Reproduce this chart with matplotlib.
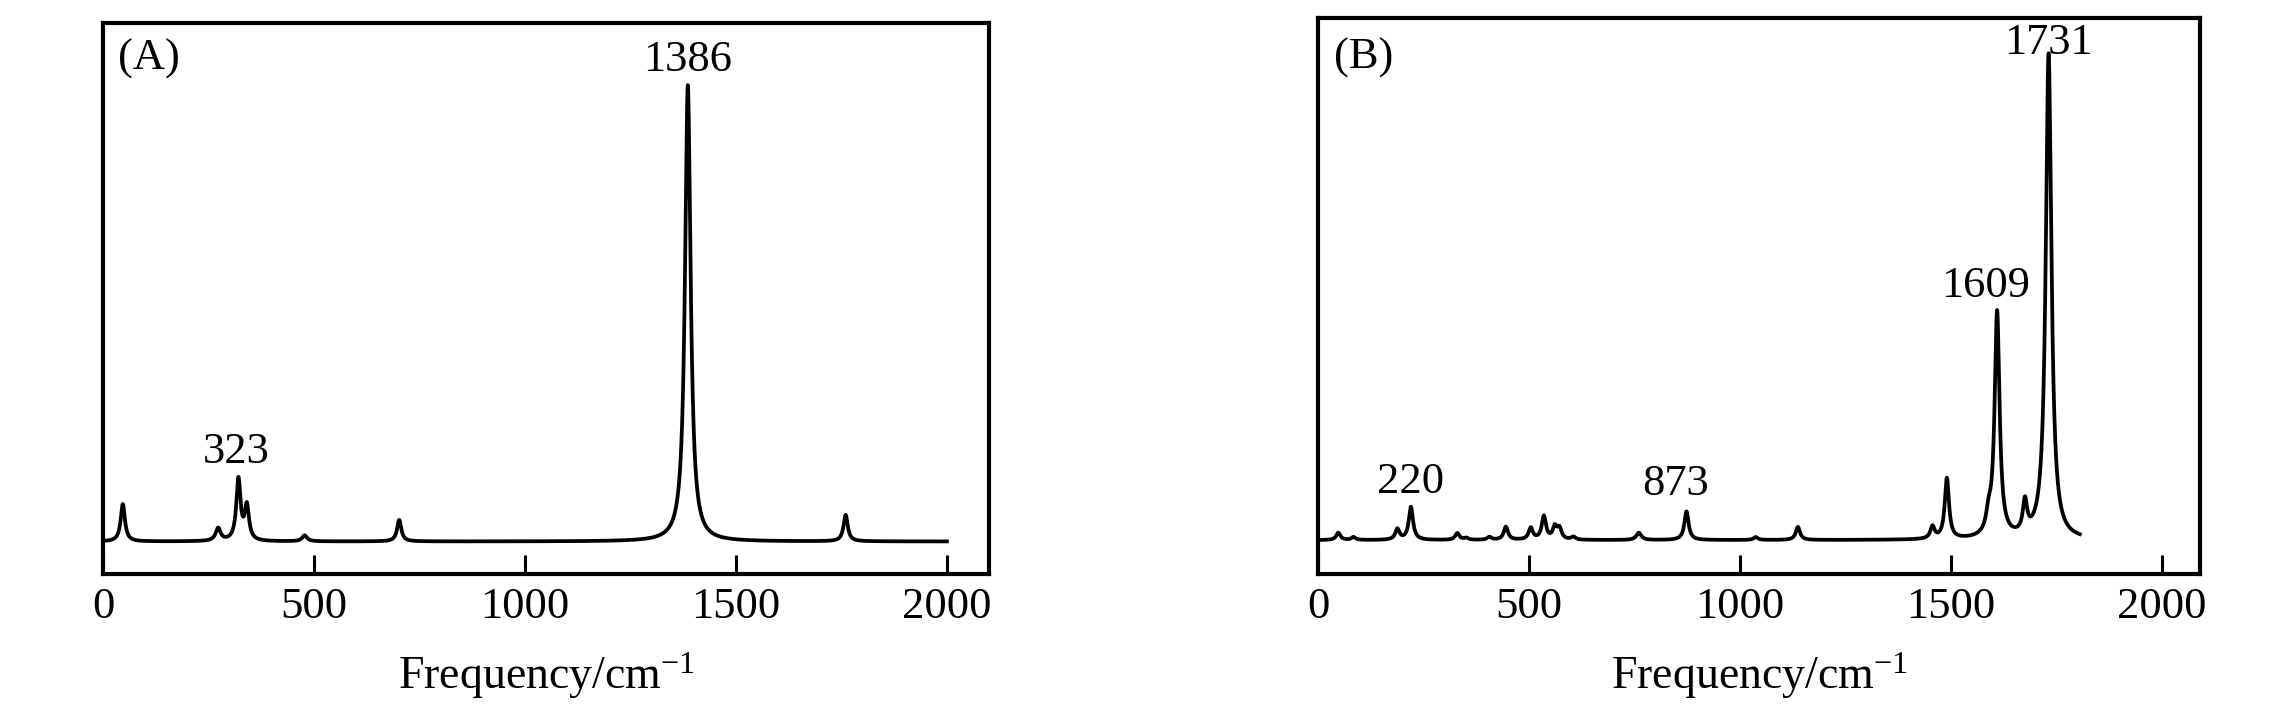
import numpy as np
import matplotlib
matplotlib.use("Agg")
import matplotlib.pyplot as plt

plt.rcParams['font.family'] = ['Liberation Serif', 'DejaVu Serif']
plt.rcParams['mathtext.fontset'] = 'custom'
plt.rcParams['mathtext.rm'] = 'Liberation Serif'
plt.rcParams['mathtext.it'] = 'Liberation Serif:italic'

# ---------------- peak lists ----------------
# (A): position / cm^-1, relative height, half width
pos_a = [47, 273, 321, 341, 478, 702, 1386, 1760]
amp_a = [0.082, 0.028, 0.135, 0.075, 0.013, 0.047, 1.0, 0.058]
hw_a = [6, 7, 6, 6, 7, 6, 8, 6]
range_a = (0, 2000)

# (B)
pos_b = [48, 84, 188, 220, 330, 351, 406, 445, 504, 535, 561, 572, 605,
         760, 873, 1037, 1137, 1456, 1490, 1589, 1609, 1675, 1731]
amp_b = [0.015, 0.006, 0.022, 0.068, 0.014, 0.004, 0.006, 0.027, 0.024,
         0.048, 0.025, 0.022, 0.006, 0.015, 0.059, 0.006, 0.027, 0.025,
         0.125, 0.035, 0.465, 0.065, 1.0]
hw_b = [6, 6, 6, 6, 6, 6, 6, 6, 6, 6, 6, 6, 6, 7, 6, 6, 6, 6, 6, 7, 7, 6, 8]
range_b = (0, 1805)

labels_a = [(1386, 1.03, '1386'), (317, 0.173, '323')]
labels_b = [(1730, 1.0, '1731'), (1583, 0.50, '1609'),
            (220, 0.097, '220'), (848, 0.092, '873')]


def spectrum(x, pos, amp, hw):
    # Lorentzian broadening of the stick spectrum
    y = np.zeros_like(x)
    for p, a, w in zip(pos, amp, hw):
        y += a * w**2 / ((x - p)**2 + w**2)
    return y


fig = plt.figure(figsize=(22.78, 7.09), dpi=100)
ax_a = fig.add_axes([0.0452, 0.1904, 0.389, 0.7772])
ax_b = fig.add_axes([0.5786, 0.1904, 0.3872, 0.7842])

fs = 32
panels = [
    (ax_a, pos_a, amp_a, hw_a, range_a, labels_a, '(A)', (0, 2100), (-0.0712, 1.136), 0.915),
    (ax_b, pos_b, amp_b, hw_b, range_b, labels_b, '(B)', (0, 2090), (-0.0697, 1.075), 0.910),
]

for ax, pos, amp, hw, xr, labels, tag, xlim, ylim, tag_y in panels:
    x = np.linspace(xr[0], xr[1], 6000)
    ax.plot(x, spectrum(x, pos, amp, hw), color='black', lw=2.7)
    ax.set_xlim(*xlim)
    ax.set_ylim(*ylim)
    ax.set_xticks([0, 500, 1000, 1500, 2000])
    ax.set_yticks([])
    ax.tick_params(axis='x', direction='in', length=13.5, width=2.2,
                   labelsize=fs, pad=9)
    for s in ax.spines.values():
        s.set_linewidth(3)
    ax.set_xlabel('Frequency/cm$^{-1}$', fontsize=fs + 1, labelpad=17)
    for lx, ly, txt in labels:
        ax.text(lx, ly, txt, fontsize=fs, ha='center', va='baseline')
    ax.text(0.052, tag_y, tag, transform=ax.transAxes, fontsize=fs,
            ha='center', va='baseline')

fig.savefig('out.png', dpi=100)
